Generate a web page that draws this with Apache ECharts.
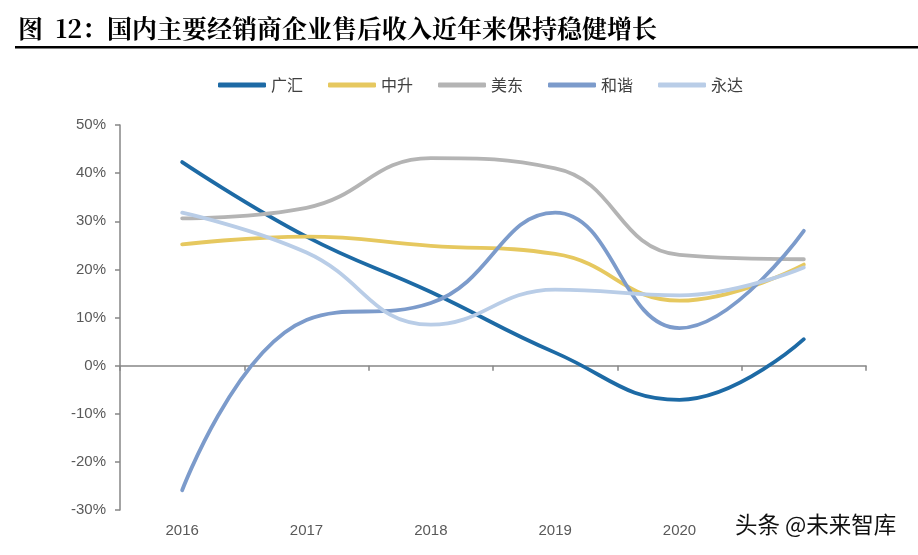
<!DOCTYPE html>
<html><head><meta charset="utf-8">
<script src="https://cdn.jsdelivr.net/npm/echarts@6/dist/echarts.min.js"></script>
<style>html,body{margin:0;padding:0;background:#fff}#c{width:918px;height:555px}</style>
</head><body><div id="c"></div>
<script>
var categories = ['2016','2017','2018','2019','2020','2021'];
var guanghui = [42.3, 26.8, 15.3, 2.7, -7.1, 5.5];
var zhongsheng = [25.2, 26.8, 24.9, 23.2, 13.5, 21.0];
var meidong = [30.6, 32.8, 43.1, 41.0, 23.0, 22.1];
var hexie = [-25.9, 9.5, 13.0, 31.8, 7.8, 28.0];
var yongda = [31.8, 23.5, 8.5, 15.8, 14.6, 20.4];
var yTicks = ['-30%','-20%','-10%','0%','10%','20%','30%','40%','50%'];
var names = ['广汇','中升','美东','和谐','永达'];
var colors = ['#1d6aa5','#e6c85f','#b4b4b4','#7c9bcb','#b9cde7'];
var values = [guanghui, zhongsheng, meidong, hexie, yongda];

var chart = echarts.init(document.getElementById('c'), null, {renderer:'canvas'});
var series = names.map(function(n,i){
  return {name:n, type:'line', smooth:0.45, symbol:'none', data:values[i], xAxisIndex:0,
    lineStyle:{width:3.8, color:colors[i], cap:'round'}, itemStyle:{color:colors[i]}};
});
chart.setOption({
  animation:false,
  color:colors,
  legend:{top:72, left:213, itemWidth:48, itemHeight:5, itemGap:25,
    icon:'roundRect',
    textStyle:{fontSize:16, color:'#404040', fontFamily:'Noto Sans CJK SC'},
    data:names},
  grid:{left:120, right:52, top:125, bottom:45},
  xAxis:[{type:'category', data:categories, boundaryGap:true,
      axisLine:{show:false, onZero:false}, axisTick:{show:false},
      axisLabel:{fontSize:15, color:'#595959', fontFamily:'Arial, Liberation Sans', margin:13,
        formatter:function(v,i){return i===5?'':v;}}},
    {type:'category', data:categories, boundaryGap:true, position:'bottom',
      axisLine:{show:true, onZero:true, lineStyle:{color:'#868686', width:1.5}},
      axisTick:{show:true, length:5, lineStyle:{color:'#868686', width:1.5}},
      axisLabel:{show:false}}],
  yAxis:{type:'value', min:-30, max:50, interval:10,
    axisLine:{show:true, lineStyle:{color:'#868686', width:1.5}},
    axisTick:{show:true, length:5, inside:false, lineStyle:{color:'#868686', width:1.5}},
    splitLine:{show:false},
    axisLabel:{fontSize:15, color:'#595959', fontFamily:'Arial, Liberation Sans', margin:14,
      formatter:function(v){return yTicks[Math.round((v+30)/10)];}}},
  graphic:[
    {type:'text', left:18, top:16, style:{text:'图  12：国内主要经销商企业售后收入近年来保持稳健增长',
      font:'bold 25px "Noto Serif CJK SC","Noto Sans CJK SC"', fill:'#000'}},
    {type:'rect', shape:{x:15, y:46, width:903, height:2.5}, style:{fill:'#000'}},
    {type:'text', left:735, top:513, style:{text:'头条 @未来智库',
      font:'22.5px "Noto Sans CJK SC"', fill:'#111'}}
  ],
  series:series
});
</script></body></html>
